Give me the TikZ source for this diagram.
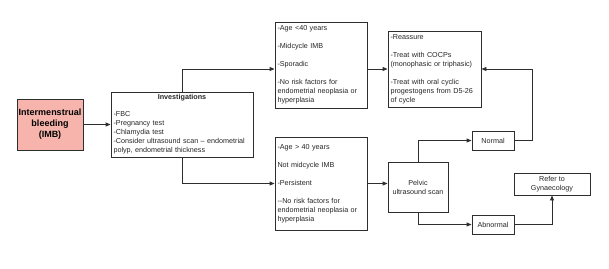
\documentclass[tikz,border=0pt]{standalone}
\usepackage{fontspec}
\setmainfont{Liberation Sans}
\usetikzlibrary{arrows.meta}
\definecolor{linec}{HTML}{2E2E2E}
\definecolor{pinkfill}{HTML}{F6B4AC}
\begin{document}
\begin{tikzpicture}[x=1pt,y=-1pt,
  box/.style={draw=linec, line width=0.9pt, rectangle, inner ysep=0pt, inner xsep=3pt,
    font=\fontsize{7.2}{9}\selectfont, text=black!85},
  lbox/.style={box, align=left},
  cbox/.style={box, align=center},
  arr/.style={draw=linec, line width=0.9pt, -{Triangle[length=5pt,width=4pt]}}
]
\useasboundingbox (0,0) rectangle (609,268);
\fill[white] (0,0) rectangle (609,268);

\node[cbox, fill=pinkfill, minimum width=66pt, minimum height=51pt, inner xsep=0pt,
  font=\fontsize{9}{11}\selectfont\bfseries, text=black] (imb) at (50,124.5)
  {Intermenstrual\\bleeding\\(IMB)};

\node[lbox, text width=137pt, minimum height=65pt, inner xsep=2.5pt] (inv) at (182,124.5)
  {\makebox[\linewidth]{\textbf{Investigations}}\\[8pt]
   -FBC\\-Pregnancy test\\-Chlamydia test\\-Consider ultrasound scan – endometrial\\polyp, endometrial thickness};

\node[lbox, text width=87pt, minimum height=86pt, inner xsep=2.5pt] (top) at (321,65)
  {-Age <40 years\\[9pt]-Midcycle IMB\\[9pt]-Sporadic\\[9pt]-No risk factors for\\endometrial neoplasia or\\hyperplasia};

\node[lbox, text width=87pt, minimum height=93pt, inner xsep=2.5pt] (bot) at (321,183.5)
  {-Age > 40 years\\[9pt]Not midcycle IMB\\[9pt]-Persistent\\[9pt]-{}-No risk factors for\\endometrial neoplasia or\\hyperplasia};

\node[lbox, text width=88pt, minimum height=76pt, inner xsep=2.5pt] (reass) at (434.5,69)
  {-Reassure\\[9pt]-Treat with COCPs\\(monophasic or triphasic)\\[9pt]-Treat with oral cyclic\\progestogens from D5-26\\of cycle};

\node[cbox, minimum width=60pt, minimum height=50pt] (pelvic) at (418,187)
  {Pelvic\\ultrasound scan};

\node[cbox, minimum width=42pt, minimum height=19pt] (normal) at (493,140.5) {Normal};
\node[cbox, minimum width=42pt, minimum height=19pt] (abn) at (493,224.5) {Abnormal};
\node[cbox, minimum width=76pt, minimum height=22pt] (refer) at (552,184) {Refer to\\Gynaecology};

\coordinate (rx) at (532,0);

\draw[arr] (imb.east) -- (inv.west);
\draw[arr] (inv.north) |- (top.west |- reass.west);
\draw[arr] (inv.south) |- (bot.west);
\draw[arr] (top.east |- reass.west) -- (reass.west);
\draw[arr] (bot.east) -- (bot.east -| pelvic.west);
\draw[arr] (pelvic.north) |- (normal.west);
\draw[arr] (pelvic.south) |- (abn.west);
\draw[arr] (normal.east) -- (normal.east -| rx) |- (reass.east);
\draw[arr] (abn.east) -| (refer.south);
\end{tikzpicture}
\end{document}
